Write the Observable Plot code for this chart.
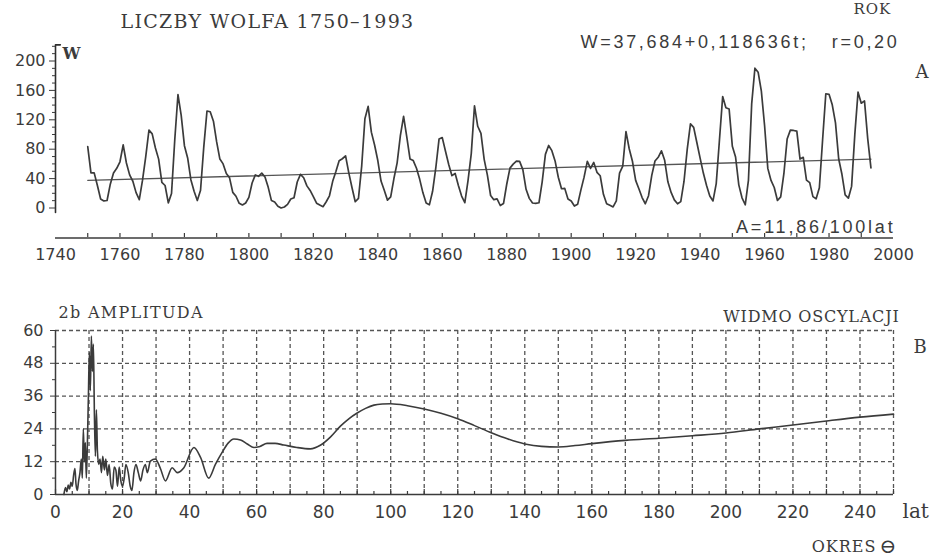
<!DOCTYPE html>
<html><head><meta charset="utf-8">
<script src="https://cdn.jsdelivr.net/npm/d3@7"></script>
<script src="https://cdn.jsdelivr.net/npm/@observablehq/plot@0.6"></script>
<style>
body{margin:0;background:#fff;}
#chart{position:relative;width:945px;height:558px;overflow:hidden;background:#fff;}
#chart svg{display:block;position:absolute;left:0;}
</style></head><body><div id="chart"></div>
<script>
// ---------- DATA ----------
const wolfYears = d3.range(1750, 1994);
const wolfValues = [
 83.4,47.7,47.8,30.7,12.2,9.6,10.2,32.4,47.6,54.0,
 62.9,85.9,61.2,45.1,36.4,20.9,11.4,37.8,69.8,106.1,
 100.8,81.6,66.5,34.8,30.6,7.0,19.8,92.5,154.4,125.9,
 84.8,68.1,38.5,22.8,10.2,24.1,82.9,132.0,130.9,118.1,
 89.9,66.6,60.0,46.9,41.0,21.3,16.0,6.4,4.1,6.8,
 14.5,34.0,45.0,43.1,47.5,42.2,28.1,10.1,8.1,2.5,
 0.0,1.4,5.0,12.2,13.9,35.4,45.8,41.1,30.1,23.9,
 15.6,6.6,4.0,1.8,8.5,16.6,36.3,49.6,64.2,67.0,
 70.9,47.8,27.5,8.5,13.2,56.9,121.5,138.3,103.2,85.7,
 64.6,36.7,24.2,10.7,15.0,40.1,61.5,98.5,124.7,96.3,
 66.6,64.5,54.1,39.0,20.6,6.7,4.3,22.7,54.8,93.8,
 95.8,77.2,59.1,44.0,47.0,30.5,16.3,7.3,37.6,74.0,
 139.0,111.2,101.6,66.2,44.7,17.0,11.3,12.4,3.4,6.0,
 32.3,54.3,59.7,63.7,63.5,52.2,25.4,13.1,6.8,6.3,
 7.1,35.6,73.0,85.1,78.0,64.0,41.8,26.2,26.7,12.1,
 9.5,2.7,5.0,24.4,42.0,63.5,53.8,62.0,48.5,43.9,
 18.6,5.7,3.6,1.4,9.6,47.4,57.1,103.9,80.6,63.6,
 37.6,26.1,14.2,5.8,16.7,44.3,63.9,69.0,77.8,64.9,
 35.7,21.2,11.1,5.7,8.7,36.1,79.7,114.4,109.6,88.8,
 67.8,47.5,30.6,16.3,9.6,33.2,92.6,151.6,136.3,134.7,
 83.9,69.4,31.5,13.9,4.4,38.0,141.7,190.2,184.8,159.0,
 112.3,53.9,37.5,27.9,10.2,15.1,47.0,93.8,105.9,105.5,
 104.5,66.6,68.9,38.0,34.5,15.5,12.6,27.5,92.5,155.4,
 154.6,140.4,115.9,66.6,45.9,17.9,13.4,29.4,100.2,157.6,
 142.6,145.7,94.3,54.6
];
const trendYears = [1750, 1993];
const trendValues = [37.7, 66.5];

const wTicks = [0, 40, 80, 120, 160, 200];
const yearTicks = [1740,1760,1780,1800,1820,1840,1860,1880,1900,1920,1940,1960,1980,2000];
// left W axis: bottom end, top end (with a short hook to the right)
const wAxisYears = [1740, 1740, 1741.5];
const wAxisValues = [-6, 222, 222];

const periods = [
 2.5,3.0,3.4,3.8,4.2,4.6,5.0,5.4,5.8,6.1,6.5,6.9,7.3,7.7,8.0,8.3,8.6,8.9,9.2,9.5,
 9.8,10.1,10.4,10.7,11.0,11.3,11.6,11.9,12.2,12.5,12.9,13.3,13.7,14.1,14.6,15.0,15.5,16.0,16.5,17.0,
 17.5,18.0,18.5,19.0,19.5,20.0,20.5,21.0,21.7,22.3,22.8,23.4,24.0,24.7,25.4,26.1,26.8,27.4,28.3,29.8,
 31.3,32.8,34.8,36.3,38.3,41.3,43.3,45.7,47.7,49.7,51.5,53.2,55.2,57.2,59.2,61,63.1,65.5,68.1,72,
 76,79,82,85,87.5,90,92.5,95,97.5,100,105,110,115,120,125,130,135,140,145,150,
 155,160,170,180,190,200,210,220,230,240,250
];
const amplitudes = [
 0,2.5,1,3.5,2,4.5,3,7,9.5,4,1.5,5,8,13,6,24,12,19,6,18,
 35,52,38,58,45,55,30,14,31,16,11,13,8,14,9,13,7,11,4,2,
 10,9,3,10,5,3,6,11,8,3,1.5,8,11,8,5,9,11,8,12.2,13,
 9.5,5,9.8,8,9.8,17.2,13.5,6,11,15.4,18.8,20.3,19.9,18.5,17.2,17.6,18.7,18.7,18.1,17.2,
 16.7,18,21,25,27.7,29.8,31.5,32.7,33.1,33.2,32.5,31.3,29.7,27.7,25.2,22.6,20.3,18.5,17.6,17.4,
 17.9,18.6,19.8,20.6,21.5,22.5,24,25.4,26.9,28.3,29.4
];
const ampTicks = [0, 12, 24, 36, 48, 60];
const periodTicks = [0,20,40,60,80,100,120,140,160,180,200,220,240];

// ---------- HELPERS ----------
const INK = "#3b3b3b";
const SERIF = "DejaVu Serif, serif";
const SANS = "DejaVu Sans, sans-serif";
const spacing = {};
function label(t, ml, mt, x, y, opts = {}, ls = 0) {
  if (ls) spacing[t] = ls;
  return Plot.text([t], {text: d => d, frameAnchor: "top-left", dx: x - ml, dy: y - mt,
    lineAnchor: "bottom", textAnchor: "start", fill: INK, fontFamily: SERIF, fontSize: 16, ...opts});
}
const fmt = d => String(d);

// ---------- TOP PANEL ----------
const wolfData = wolfYears.map((y, i) => ({year: y, w: wolfValues[i]}));
const trendData = trendYears.map((y, i) => ({year: y, w: trendValues[i]}));
const wAxisData = wAxisYears.map((y, i) => ({year: y, w: wAxisValues[i]}));
const T = {ml: 55, mt: 43, mb: 38, mr: 52, h: 275};

const topPlot = Plot.plot({
  width: 945, height: T.h,
  marginLeft: T.ml, marginRight: T.mr, marginTop: T.mt, marginBottom: T.mb,
  style: {background: "transparent", color: INK, fontFamily: SANS, overflow: "visible"},
  x: {domain: [1740, 2000]},
  y: {domain: [0, 200], range: [207.5, 60.5]},
  marks: [
    Plot.line(wAxisData, {x: "year", y: "w", stroke: "#2e2e2e", strokeWidth: 1.6}),
    Plot.axisY({ticks: d3.range(10, 221, 10).filter(v => v % 40 !== 0), tickSize: 3, tickFormat: () => "", stroke: INK, label: null}),
    Plot.axisY({ticks: wTicks, tickSize: 6, tickPadding: 4, tickFormat: fmt, fontSize: 16, fontFamily: SANS, fill: INK, label: null}),
    Plot.ruleY([0], {dy: 30, stroke: INK, strokeWidth: 1.4}),
    Plot.ruleX(d3.range(1750, 2000, 10), {insetTop: 190, stroke: INK, strokeWidth: 1.2}),
    Plot.axisX({ticks: yearTicks, tickSize: 0, tickPadding: 11, tickFormat: fmt, fontSize: 16, fontFamily: SANS, fill: INK, label: null}),
    Plot.line(trendData, {x: "year", y: "w", stroke: "#555", strokeWidth: 1.3}),
    Plot.line(wolfData, {x: "year", y: "w", stroke: INK, strokeWidth: 1.7, curve: "linear"}),
    label("LICZBY WOLFA 1750–1993", T.ml, T.mt, 267, 27, {textAnchor: "middle", fontSize: 19}, 1.3),
    label("ROK", T.ml, T.mt, 853, 13, {fontSize: 15}, 1),
    label("W=37,684+0,118636t;\u00a0\u00a0\u00a0r=0,20", T.ml, T.mt, 899, 47, {textAnchor: "end", fontFamily: "Liberation Sans, sans-serif", fontSize: 18}, 2.7),
    label("A", T.ml, T.mt, 915, 77, {fontSize: 18}),
    label("A=11,86/100lat", T.ml, T.mt, 895, 232, {textAnchor: "end", fontFamily: "Liberation Sans, sans-serif", fontSize: 18}, 2.8),
    label("W", T.ml, T.mt, 62, 58, {fontSize: 16, fontWeight: "bold"})
  ]
});
topPlot.style.top = "0px";

// ---------- BOTTOM PANEL ----------
const specData = periods.map((p, i) => ({p, a: amplitudes[i]}));
const B = {ml: 55, mt: 55, mb: 64, mr: 52, h: 283};
const frameH = B.h - B.mt - B.mb;
const dash = "4,3";

const bottomPlot = Plot.plot({
  width: 945, height: B.h,
  marginLeft: B.ml, marginRight: B.mr, marginTop: B.mt, marginBottom: B.mb,
  style: {background: "transparent", color: INK, fontFamily: SANS, overflow: "visible"},
  x: {domain: [0, 250]},
  y: {domain: [0, 60]},
  marks: [
    Plot.ruleX(d3.range(10, 251, 10), {stroke: "#555", strokeWidth: 1.3, strokeDasharray: dash}),
    Plot.ruleY(ampTicks.filter(v => v > 0), {stroke: "#555", strokeWidth: 1.3, strokeDasharray: dash}),
    Plot.ruleX([0], {stroke: INK, strokeWidth: 1.5}),
    Plot.ruleY([0], {stroke: INK, strokeWidth: 1.5}),
    Plot.ruleX(d3.range(0, 251, 10), {insetTop: frameH - 5, stroke: INK, strokeWidth: 1.2}),
    Plot.ruleX(d3.range(5, 250, 10), {insetTop: frameH - 3, stroke: INK, strokeWidth: 1.2}),
    Plot.axisY({ticks: d3.range(6, 60, 12), tickSize: 3, tickFormat: () => "", stroke: INK, label: null}),
    Plot.axisY({ticks: ampTicks, tickSize: 5, tickPadding: 7, tickFormat: fmt, fontSize: 16, fontFamily: SANS, fill: INK, label: null}),
    Plot.axisX({ticks: periodTicks, tickSize: 0, tickPadding: 11, tickFormat: fmt, fontSize: 17, fontFamily: SANS, fill: INK, label: null}),
    Plot.line(specData, {x: "p", y: "a", stroke: INK, strokeWidth: 1.6, curve: "monotone-x"}),
    label("2b AMPLITUDA", B.ml, B.mt, 58, 317 - 275, {fontSize: 16}, 1.3),
    label("WIDMO OSCYLACJI", B.ml, B.mt, 899, 321 - 275, {textAnchor: "end", fontSize: 16}, 0.8),
    label("B", B.ml, B.mt, 913, 352 - 275, {fontSize: 18}),
    label("lat", B.ml, B.mt, 902, 517 - 275, {fontSize: 20}),
    label("OKRES", B.ml, B.mt, 876, 551 - 275, {textAnchor: "end", fontSize: 16}, 1),
    label("⊖", B.ml, B.mt, 879, 552 - 275, {fontSize: 20})
  ]
});
bottomPlot.style.top = "275px";

for (const svg of [topPlot, bottomPlot]) {
  svg.querySelectorAll("text").forEach(el => {
    const ls = spacing[el.textContent];
    if (ls) el.setAttribute("letter-spacing", ls);
  });
}

document.getElementById("chart").append(topPlot, bottomPlot);
</script>
</body></html>
